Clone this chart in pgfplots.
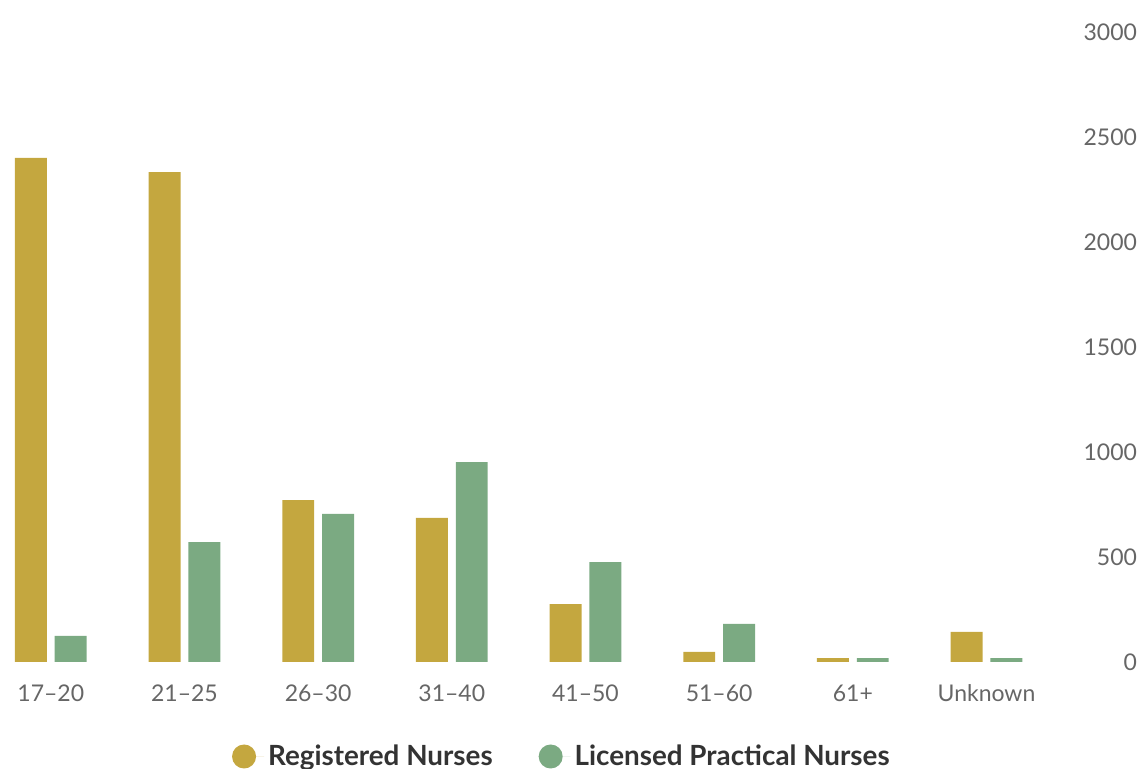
\documentclass[border=0pt]{standalone}
\usepackage{pgfplots}
\pgfplotsset{compat=1.18}
\usepackage{fontspec}
\setmainfont{Lato}
\definecolor{rn}{HTML}{C4A73F}
\definecolor{lpn}{HTML}{7BAA82}
\definecolor{tickgray}{HTML}{666666}
\definecolor{legtext}{HTML}{333333}
\begin{document}
\begin{tikzpicture}[x=0.5pt,y=0.5pt]
\path[use as bounding box] (0,0) rectangle (1143,769);
\begin{axis}[
  at={(0pt,53.5pt)}, anchor=south west,
  scale only axis, width=528pt, height=315pt,
  xmin=-0.38, xmax=7.52, ymin=0, ymax=3000,
  axis line style={draw=none},
  major tick style={draw=none},
  ytick={0,500,...,3000},
  yticklabel pos=right,
  xtick={0,...,7},
  xticklabels={17–20,21–25,26–30,31–40,41–50,51–60,61+,Unknown},
  /pgf/number format/assume math mode=true,
  /pgf/number format/1000 sep={},
  ticklabel style={font=\fontsize{11.5}{14}\selectfont, text=tickgray},
  yticklabel style={anchor=east, xshift=44pt},
  xticklabel style={yshift=-3.5pt},
  ybar, bar width=0.239,
  legend columns=2,
  legend style={at={(0.533,-0.15)}, anchor=center, draw=none,
    font=\fontsize{13.9}{16}\selectfont\bfseries, text=legtext,
    /tikz/every even column/.append style={column sep=21pt}},
  legend image code/.code={\fill[#1] (6pt,0pt) circle (6pt); \path (0pt,0pt) -- (16pt,0pt);},
]
\addplot[fill=rn, draw=none, bar shift=-0.149] coordinates {
  (0,2400) (1,2333) (2,771) (3,686) (4,276) (5,48) (6,19) (7,143)};
\addlegendentry{Registered Nurses}
\addplot[fill=lpn, draw=none, bar shift=0.149] coordinates {
  (0,124) (1,571) (2,705) (3,952) (4,476) (5,181) (6,19) (7,19)};
\addlegendentry{Licensed Practical Nurses}
\end{axis}
\end{tikzpicture}
\end{document}
